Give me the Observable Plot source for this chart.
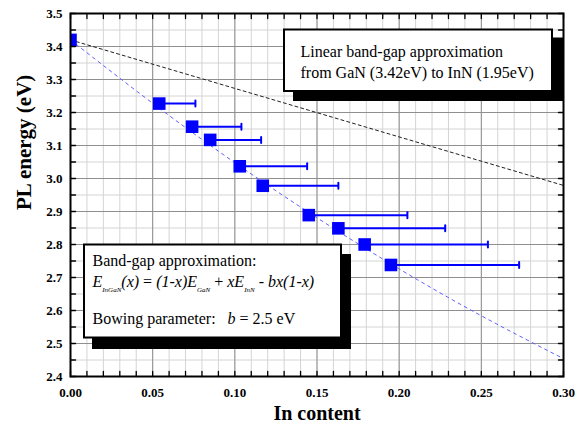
<!DOCTYPE html>
<html><head><meta charset="utf-8">
<script src="https://cdn.jsdelivr.net/npm/d3@7"></script>
<script src="https://cdn.jsdelivr.net/npm/@observablehq/plot@0.6"></script>
<style>
html,body{margin:0;padding:0;background:#fff;}
#wrap{position:relative;width:577px;height:426px;font-family:"Liberation Serif",serif;}
#wrap svg{display:block;}
#overlay{position:absolute;left:0;top:0;pointer-events:none;}
#overlay text{white-space:pre;}
</style></head><body><div id="wrap"></div>
<script>
// ---- data ----
const inContent = [0.000, 0.054, 0.074, 0.085, 0.103, 0.117, 0.145, 0.163, 0.179, 0.195];
const plEnergy  = [3.420, 3.227, 3.157, 3.117, 3.037, 2.978, 2.889, 2.849, 2.800, 2.738];
const errUpper  = [null, 0.076, 0.104, 0.116, 0.144, 0.163, 0.205, 0.228, 0.254, 0.273];
const linearX = [0.00, 0.30];
const linearY = [3.420, 2.979];
const bowingX = [0.00, 0.05, 0.10, 0.15, 0.20, 0.25, 0.30];
const bowingY = [3.420, 3.228, 3.048, 2.881, 2.726, 2.584, 2.454];
const xTickLabels = [0.00, 0.05, 0.10, 0.15, 0.20, 0.25, 0.30];
const yTickLabels = [2.4, 2.5, 2.6, 2.7, 2.8, 2.9, 3.0, 3.1, 3.2, 3.3, 3.4, 3.5];
const xMinorTicks = d3.range(0, 31).map(i => i / 100);
const yMinorTicks = d3.range(0, 23).map(i => 2.4 + i * 0.05);
const xLabel = "In content";
const yLabel = "PL energy (eV)";

const points = inContent.map((x, i) => ({x, y: plEnergy[i], xe: errUpper[i]}));
const errs = points.filter(d => d.xe != null);
const linear = linearX.map((x, i) => ({x, y: linearY[i]}));
const bowing = bowingX.map((x, i) => ({x, y: bowingY[i]}));

const serif = '"Liberation Serif","Times New Roman",serif';
const stick = {draw(ctx, l) { ctx.moveTo(0, 0); ctx.lineTo(0, -l); }};
const tickOpts = {length: 5, anchor: "start", shape: stick, stroke: "#000", strokeWidth: 1.3};

const chart = Plot.plot({
  width: 577, height: 426,
  marginLeft: 70, marginRight: 14, marginTop: 13, marginBottom: 50,
  style: {fontFamily: serif, background: "#fff", color: "#000"},
  x: {domain: [0, 0.3]},
  y: {domain: [2.4, 3.5]},
  marks: [
    Plot.ruleX(xMinorTicks, {x: d => d, stroke: "#d4d4d4", strokeWidth: 1}),
    Plot.ruleY(yMinorTicks, {y: d => d, stroke: "#d4d4d4", strokeWidth: 1}),
    Plot.ruleX(xTickLabels, {x: d => d, stroke: "#8f8f8f", strokeWidth: 1}),
    Plot.ruleY(yTickLabels, {y: d => d, stroke: "#8f8f8f", strokeWidth: 1}),
    Plot.line(linear, {x: "x", y: "y", stroke: "#222", strokeWidth: 1, strokeDasharray: "3,3"}),
    Plot.line(bowing, {x: "x", y: "y", stroke: "#6060ff", strokeWidth: 1, strokeDasharray: "3,4", curve: "natural"}),
    Plot.link(errs, {x1: "x", x2: "xe", y1: "y", y2: "y", stroke: "#0000ff", strokeWidth: 2}),
    Plot.vector(errs, {x: "xe", y: "y", length: 6, rotate: 0, anchor: "middle", shape: stick, stroke: "#0000ff", strokeWidth: 2}),
    Plot.dot(points, {x: "x", y: "y", symbol: "square", r: 7.1, fill: "#0000ff", stroke: "none", clip: true}),
    Plot.frame({stroke: "#000", strokeWidth: 2}),
    Plot.vector(xMinorTicks, {x: d => d, frameAnchor: "bottom", rotate: 0, ...tickOpts}),
    Plot.vector(xMinorTicks, {x: d => d, frameAnchor: "top", rotate: 180, ...tickOpts}),
    Plot.vector(yMinorTicks, {y: d => d, frameAnchor: "left", rotate: 90, ...tickOpts}),
    Plot.vector(yMinorTicks, {y: d => d, frameAnchor: "right", rotate: -90, ...tickOpts}),
    Plot.axisX({ticks: xTickLabels, tickSize: 0, tickPadding: 11, tickFormat: d3.format(".2f"), fontSize: 13, fontWeight: "bold", label: null}),
    Plot.axisY({ticks: yTickLabels, tickSize: 0, tickPadding: 8, tickFormat: d3.format(".1f"), fontSize: 13, fontWeight: "bold", label: null}),
    Plot.text([xLabel], {text: d => d, frameAnchor: "bottom", dy: 43, lineAnchor: "bottom", fontSize: 20, fontWeight: "bold", fill: "#000"}),
    Plot.text([yLabel], {text: d => d, frameAnchor: "left", dx: -40, dy: 15, rotate: -90, lineAnchor: "bottom", fontSize: 21, fontWeight: "bold", fill: "#000"})
  ]
});
const wrap = document.getElementById("wrap");
wrap.appendChild(chart);

// ---- annotation boxes (layout overlay) ----
const ov = d3.select(wrap).append("svg").attr("id", "overlay")
  .attr("width", 577).attr("height", 426)
  .attr("font-family", serif);

function box(x0, y0, x1, y1, sx, sy) {
  ov.append("rect").attr("x", x0 + sx).attr("y", y0 + sy).attr("width", x1 - x0).attr("height", y1 - y0).attr("fill", "#000");
  ov.append("rect").attr("x", x0 + 1).attr("y", y0 + 1).attr("width", x1 - x0 - 2).attr("height", y1 - y0 - 2)
    .attr("fill", "#fff").attr("stroke", "#000").attr("stroke-width", 2);
}
function label(x, y, t) {
  return ov.append("text").attr("x", x).attr("y", y).attr("font-size", 16).attr("font-family", serif).attr("fill", "#000").text(t);
}
box(283, 28.5, 553, 92, 10, 9);
label(300.5, 57, "Linear band-gap approximation");
label(300.5, 77.5, "from GaN (3.42eV) to InN (1.95eV)");

box(83, 243.5, 342, 338.5, 9, 10.5);
label(92.5, 266, "Band-gap approximation:");
const f = label(92.5, 286.5, "");
const parts = [
  ["E", "i", 0], ["InGaN", "i", 1], ["(x)", "i", 0], [" = ", "n", 0], ["(1-x)E", "i", 0], ["GaN", "i", 1],
  [" + ", "n", 0], ["xE", "i", 0], ["InN", "i", 1], [" - ", "n", 0], ["bx(1-x)", "i", 0]
];
let prevSub = 0;
parts.forEach(([t, st, sub]) => {
  const ts = f.append("tspan").text(t).attr("font-style", st === "i" ? "italic" : "normal");
  if (sub) ts.attr("font-size", 7).attr("dy", prevSub ? 0 : 5);
  else ts.attr("font-size", 16).attr("dy", prevSub ? -5 : 0);
  prevSub = sub;
});
const b = label(92.5, 324, "");
b.append("tspan").text("Bowing parameter:   ");
b.append("tspan").attr("font-style", "italic").text("b");
b.append("tspan").text(" = 2.5 eV");
</script>
</body></html>
